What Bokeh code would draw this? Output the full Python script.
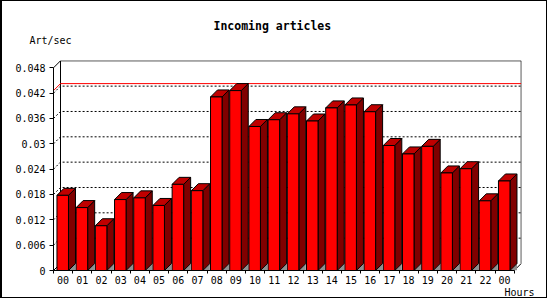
from bokeh.plotting import figure
from bokeh.models import Range1d, FixedTicker, ColumnDataSource, Title, LinearAxis
from bokeh.embed import file_html
from bokeh.resources import INLINE

# ---- data ----
hours = ["00", "01", "02", "03", "04", "05", "06", "07", "08", "09", "10", "11",
         "12", "13", "14", "15", "16", "17", "18", "19", "20", "21", "22", "00"]
rate = [0.0178, 0.0149, 0.0106, 0.0168, 0.0172, 0.0154, 0.0204, 0.0189,
        0.0411, 0.0426, 0.0341, 0.0357, 0.0371, 0.0354, 0.0385, 0.0392,
        0.0376, 0.0296, 0.0276, 0.0294, 0.0231, 0.0241, 0.0165, 0.0212]
y_ticks = [0, 0.006, 0.012, 0.018, 0.024, 0.03, 0.036, 0.042, 0.048]
y_tick_labels = ["0", "0.006", "0.012", "0.018", "0.024", "0.03", "0.036", "0.042", "0.048"]
title_text = "Incoming articles"
y_label = "Art/sec"
x_label = "Hours"

# ---- geometry (3D offset in data units) ----
n = len(hours)
px_x = 19.196          # pixels per slot
px_y = 4222.9          # pixels per unit
dx = 7 / px_x
dy = 7 / px_y
ytop = y_ticks[-1]

p = figure(width=547, height=298, output_backend="svg", toolbar_location=None,
           x_range=Range1d(0, 468 / px_x), y_range=Range1d(0, 210 / px_y),
           min_border_left=51, min_border_right=28, min_border_top=59, min_border_bottom=29,
           background_fill_color="white", border_fill_color="white",
           styles={"border-top": "1px solid black", "border-bottom": "1px solid black",
                   "border-left": "2px solid black", "border-right": "1px solid black"})
p.outline_line_color = None
p.xgrid.visible = False
p.ygrid.visible = False

FONT = "DejaVu Sans Mono"

# axes
p.yaxis.ticker = FixedTicker(ticks=y_ticks)
p.yaxis.major_label_overrides = {t: l for t, l in zip(y_ticks, y_tick_labels)}
p.yaxis.bounds = (0, ytop)
p.yaxis.major_tick_out = 4
p.yaxis.major_tick_in = 0
p.yaxis.minor_tick_out = 0
p.yaxis.minor_tick_in = 0
p.yaxis.major_label_standoff = 4
p.yaxis.major_label_text_font = FONT
p.yaxis.major_label_text_font_size = "10px"
p.yaxis.major_label_text_color = "black"
p.yaxis.axis_line_color = "black"
p.yaxis.major_tick_line_color = "black"

centers = [i + 0.5 for i in range(n)]
p.xaxis.ticker = FixedTicker(ticks=centers, minor_ticks=list(range(n + 1)))
p.xaxis.major_label_overrides = {c: h for c, h in zip(centers, hours)}
p.xaxis.bounds = (0, n)
p.xaxis.major_tick_out = 0
p.xaxis.major_tick_in = 0
p.xaxis.minor_tick_out = 3
p.xaxis.minor_tick_in = 0
p.xaxis.major_label_standoff = 2
p.xaxis.major_label_text_font = FONT
p.xaxis.major_label_text_font_size = "10px"
p.xaxis.major_label_text_color = "black"
p.xaxis.axis_line_color = "black"
p.xaxis.minor_tick_line_color = "black"

# back wall frame
wall_xs = [[0, dx, n + dx, n + dx, n], [dx, dx], [0, dx]]
wall_ys = [[ytop, ytop + dy, ytop + dy, dy, 0], [ytop + dy, dy], [0, dy]]
p.multi_line(wall_xs, wall_ys, line_color="black", line_width=1)

# dotted grid lines on back wall
gx, gy = [], []
for t in y_ticks[1:-1]:
    gx.append([0, dx, n + dx])
    gy.append([t, t + dy, t + dy])
p.multi_line(gx, gy, line_color="black", line_width=1, line_dash="2 2")

# max line
mx = max(rate)
p.line([0, dx, n + dx], [mx, mx + dy, mx + dy], line_color="#ff0000", line_width=1)

# bars
fl, fr = 0.18, 0.78
front_l = [i + fl for i in range(n)]
front_r = [i + fr for i in range(n)]
shadow_xs = [[r, r + dx, r + dx] for r in front_r]
shadow_ys = [[0, dy, 0] for _ in front_r]
side_xs = [[r, r + dx, r + dx, r] for r in front_r]
side_ys = [[0, dy, v + dy, v] for v in rate]
top_xs = [[l, l + dx, r + dx, r] for l, r in zip(front_l, front_r)]
top_ys = [[v, v + dy, v + dy, v] for v in rate]

src = ColumnDataSource(dict(l=front_l, r=front_r, v=rate, b=[0] * n))

p.patches(shadow_xs, shadow_ys, fill_color="#909090", line_color=None)
p.patches(side_xs, side_ys, fill_color="#800000", line_color="black", line_width=1)
p.patches(top_xs, top_ys, fill_color="#c00000", line_color="black", line_width=1)
p.quad(left="l", right="r", top="v", bottom="b", source=src,
       fill_color="#ff0000", line_color="black", line_width=1)

# invisible top axis used only as a spacer between the frame and the texts above
spacer = LinearAxis(ticker=FixedTicker(ticks=[]), axis_line_color=None,
                    major_tick_out=0, major_tick_in=0, minor_tick_out=0, minor_tick_in=0,
                    major_label_standoff=0, axis_label=" ", axis_label_standoff=1,
                    axis_label_text_font=FONT, axis_label_text_font_size="10px",
                    axis_label_text_font_style="normal")
p.add_layout(spacer, "above")

p.add_layout(Title(text=y_label, align="left", offset=-24, standoff=0,
                   text_font=FONT, text_font_size="10px", text_font_style="normal",
                   text_color="black"), "above")
p.add_layout(Title(text=title_text, align="left", offset=160, standoff=0,
                   text_font=FONT, text_font_size="11.5px", text_font_style="bold",
                   text_color="black"), "above")
p.add_layout(Title(text=x_label, align="right", offset=-13, standoff=0,
                   vertical_align="top",
                   text_font=FONT, text_font_size="10px", text_font_style="normal",
                   text_color="black"), "below")

open("out.html", "w").write(file_html(p, INLINE))
